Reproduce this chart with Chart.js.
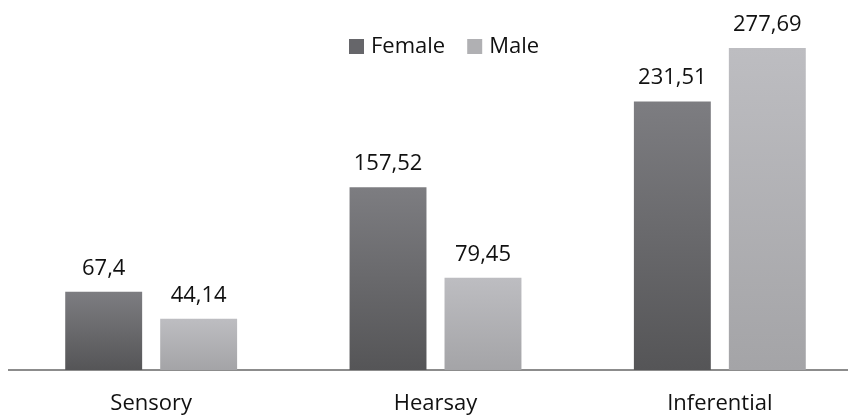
<!DOCTYPE html>
<html>
<head>
<meta charset="utf-8">
<script src="https://cdn.jsdelivr.net/npm/chart.js@4.4.1/dist/chart.umd.min.js"></script>
<style>
  html, body { margin: 0; padding: 0; background: #fff; overflow: hidden; }
  #wrap { width: 862px; height: 419px; position: relative; }
</style>
</head>
<body>
<div id="wrap"><canvas id="sourceChart"></canvas></div>
<script>
const categories = ['Sensory', 'Hearsay', 'Inferential'];
const femaleValues = [67.4, 157.52, 231.51];
const maleValues = [44.14, 79.45, 277.69];
const seriesNames = ['Female', 'Male'];

const FONT = '"Open Sans", sans-serif';

// colours top -> bottom of each bar
const shades = [
    ['#7d7d81', '#555557', '#66666a'],
    ['#bdbdc1', '#a4a4a7', '#b0b0b3']
];

function barGradient(idx) {
    return function (ctx) {
        const chart = ctx.chart;
        if (!chart.chartArea || ctx.type !== 'data') return shades[idx][2];
        const y = chart.scales.y;
        const top = y.getPixelForValue(ctx.raw);
        const bottom = y.getPixelForValue(0);
        const g = chart.ctx.createLinearGradient(0, top, 0, bottom);
        g.addColorStop(0, shades[idx][0]);
        g.addColorStop(1, shades[idx][1]);
        return g;
    };
}

function fmt(v) {
    return String(v).replace('.', ',');
}

const valueLabels = {
    id: 'valueLabels',
    afterDatasetsDraw(chart) {
        const c = chart.ctx;
        c.save();
        c.font = '22px ' + FONT;
        c.fillStyle = '#111';
        c.textAlign = 'center';
        c.textBaseline = 'alphabetic';
        chart.data.datasets.forEach((ds, i) => {
            chart.getDatasetMeta(i).data.forEach((bar, j) => {
                c.fillText(fmt(ds.data[j]), bar.x, bar.y - 17);
            });
        });
        c.restore();
    }
};

const topLegend = {
    id: 'topLegend',
    afterDraw(chart) {
        const c = chart.ctx;
        c.save();
        c.font = '22px ' + FONT;
        c.textBaseline = 'middle';
        c.textAlign = 'left';
        let x = 349;
        const yMid = 46.5;
        seriesNames.forEach((name, i) => {
            c.fillStyle = shades[i][2];
            c.fillRect(x, yMid - 7.5, 15, 15);
            c.fillStyle = '#111';
            c.fillText(name, x + 22, yMid);
            x += 22 + c.measureText(name).width + 22;
        });
        c.restore();
    }
};

new Chart(document.getElementById('sourceChart').getContext('2d'), {
    type: 'bar',
    data: {
        labels: categories,
        datasets: [
            { label: seriesNames[0], data: femaleValues, backgroundColor: barGradient(0) },
            { label: seriesNames[1], data: maleValues, backgroundColor: barGradient(1) }
        ]
    },
    options: {
        responsive: true,
        maintainAspectRatio: false,
        animation: false,
        categoryPercentage: 0.668,
        barPercentage: 0.81,
        layout: { padding: { left: 9, right: 0, top: 22, bottom: 0 } },
        plugins: {
            legend: { display: false },
            tooltip: { enabled: false }
        },
        scales: {
            x: {
                z: 1,
                grid: { display: false, drawTicks: false },
                border: { display: true, color: '#8c8c8c', width: 2 },
                ticks: { color: '#111', font: { family: FONT, size: 22 }, padding: 21 },
                afterFit(scale) { scale.height = 49; }
            },
            y: {
                display: false,
                min: 0,
                max: 300
            }
        }
    },
    plugins: [valueLabels, topLegend]
});
</script>
</body>
</html>
